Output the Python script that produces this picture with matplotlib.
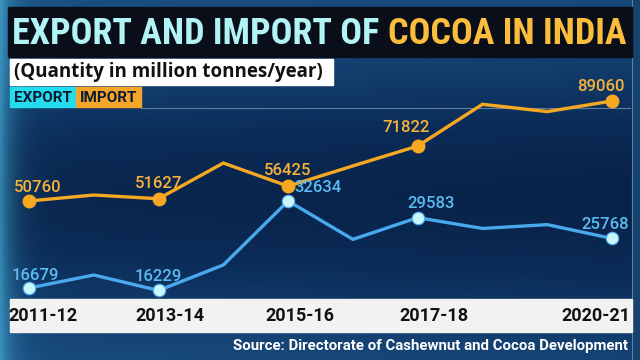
import numpy as np
import matplotlib
matplotlib.use("Agg")
import matplotlib.pyplot as plt
from matplotlib.patches import Rectangle
from matplotlib.colors import LinearSegmentedColormap
from matplotlib import font_manager

# data
years = ['2011-12', '2012-13', '2013-14', '2014-15', '2015-16',
         '2016-17', '2017-18', '2018-19', '2019-20', '2020-21']
import_qty = [50760, 53050, 51627, 65300, 56425, 64200, 71822, 87800, 85000, 89060]
export_qty = [16679, 19060, 16229, 20900, 32634, 25600, 29583, 27600, 28300, 25768]
labelled = [0, 2, 4, 6, 9]
tick_labels = ['2011-12', '2013-14', '2015-16', '2017-18', '2020-21']

IMP = '#f6a823'
EXP = '#4aa8ee'
EXP_FILL = '#c8f6fb'
TITLE_CYAN = '#b2f3f6'
TITLE_GOLD = '#fbbd3c'

# pick the narrowest bold family that is installed
installed = {f.name for f in font_manager.fontManager.ttflist}
title_family = 'Roboto'
for fam in ['Liberation Sans Narrow', 'Roboto Condensed', 'Open Sans Condensed',
            'DejaVu Sans Condensed']:
    if fam in installed:
        title_family = fam
        break

fig = plt.figure(figsize=(6.4, 3.6), dpi=100)

# background in pixel coordinates
bg = fig.add_axes([0, 0, 1, 1])
bg.set_xlim(0, 640)
bg.set_ylim(360, 0)
bg.set_axis_off()

yy = np.linspace(0, 1, 180)[:, None]
xx = np.linspace(0, 1, 320)[None, :]
shade = 0.6 * np.exp(-((yy - 0.55) / 0.35) ** 2) + 0.1 * xx
glow = np.exp(-xx / 0.02) * 0.6
cmap = LinearSegmentedColormap.from_list('bg', ['#1c5488', '#0b2c58', '#051634'])
img = cmap(np.clip(shade, 0, 1))
img[..., :3] = img[..., :3] * (1 - glow[..., None]) + np.array([0.3, 0.75, 0.9]) * glow[..., None]
bg.imshow(img, extent=[0, 640, 360, 0], aspect='auto', zorder=0)

# right-hand strip
bg.add_patch(Rectangle((632, 0), 8, 360, color='#16426e', zorder=1))
bg.plot([632, 632], [0, 360], color='#6b8cb0', lw=0.6, zorder=1)

# title band
bg.add_patch(Rectangle((8, 7), 624, 50, color='#0a0e18', zorder=2))
t1 = bg.text(12, 34, 'EXPORT AND IMPORT OF ', color=TITLE_CYAN, fontsize=28,
             fontweight='bold', family=title_family, va='center', ha='left', zorder=3)
t2 = bg.text(0, 34, 'COCOA IN INDIA', color=TITLE_GOLD, fontsize=28,
             fontweight='bold', family=title_family, va='center', ha='left', zorder=3)
r = fig.canvas.get_renderer()
w = t1.get_window_extent(r).width + t2.get_window_extent(r).width
fs = min(28 * 615 / w, 30)
t1.set_fontsize(fs)
t2.set_fontsize(fs)
t2.set_x(12 + t1.get_window_extent(r).width)

# subtitle box and legend chips
bg.add_patch(Rectangle((10, 59), 323, 26, color='white', zorder=2))
bg.text(14, 72.5, '(Quantity in million tonnes/year)', color='#111111', fontsize=13.5,
        fontweight='bold', family='Open Sans', va='center', ha='left', zorder=3)
bg.add_patch(Rectangle((10, 87), 65, 20, color='#25dcee', zorder=2))
bg.add_patch(Rectangle((76, 87), 65, 20, color='#f5a52a', zorder=2))
bg.text(42.5, 97.5, 'EXPORT', color='#0b1a30', fontsize=11, fontweight='bold',
        family='Roboto', va='center', ha='center', zorder=3)
bg.text(108.5, 97.5, 'IMPORT', color='#0b1a30', fontsize=11, fontweight='bold',
        family='Roboto', va='center', ha='center', zorder=3)
bg.plot([141, 630], [107.5, 107.5], color='#5f7c9f', lw=0.8, zorder=2)

# x label band
bg.add_patch(Rectangle((10, 299), 622, 33, color='#f2f2f2', zorder=2))
for px, lab, ha in zip([43, 170, 300, 434, 630], tick_labels,
                       ['center', 'center', 'center', 'center', 'right']):
    bg.text(px, 316, lab, color='#111111', fontsize=13, fontweight='bold',
            family='Roboto', va='center', ha=ha, zorder=3)
bg.text(628, 346, 'Source: Directorate of Cashewnut and Cocoa Development',
        color='white', fontsize=10.8, fontweight='bold', family='Roboto',
        va='center', ha='right', zorder=3)

# data axes: import on one scale, export on a second one
x = np.arange(len(years))
ax_imp = fig.add_axes([0, 0, 1, 1], facecolor='none')
ax_imp.set_xlim(-0.4477, 9.432)
ax_imp.set_ylim(-10140, 127740)
ax_imp.set_axis_off()
ax_exp = fig.add_axes([0, 0, 1, 1], facecolor='none')
ax_exp.set_xlim(-0.4477, 9.432)
ax_exp.set_ylim(3475, 69495)
ax_exp.set_axis_off()

ax_imp.plot(x, import_qty, color=IMP, lw=2.4, zorder=3, solid_joinstyle='miter')
ax_imp.plot(x[labelled], [import_qty[i] for i in labelled], 'o', ms=9,
            color=IMP, zorder=4)
ax_exp.plot(x, export_qty, color=EXP, lw=2.4, zorder=3, solid_joinstyle='miter')
ax_exp.plot(x[labelled], [export_qty[i] for i in labelled], 'o', ms=9,
            mfc=EXP_FILL, mec=EXP, mew=0.8, zorder=4)

imp_off = {0: (9, 13), 2: (0, 15), 4: (0, 16), 6: (-12, 18), 9: (-11, 14)}
exp_off = {0: (6, 13), 2: (0, 14), 4: (6, 13), 6: (13, 14), 9: (-7, 14)}
for i in labelled:
    dx, dy = imp_off[i]
    ax_imp.annotate(str(import_qty[i]), (x[i], import_qty[i]), xytext=(dx, dy),
                    textcoords='offset pixels', ha='center', va='center',
                    color='#f7b23a', fontsize=12, fontweight='medium', family='Roboto')
    dx, dy = exp_off[i]
    ha = 'left' if i == 4 else 'center'
    ax_exp.annotate(str(export_qty[i]), (x[i], export_qty[i]), xytext=(dx, dy),
                    textcoords='offset pixels', ha=ha, va='center',
                    color='#5cbcf2', fontsize=12, fontweight='medium', family='Roboto')

fig.savefig('out.png', dpi=100)
